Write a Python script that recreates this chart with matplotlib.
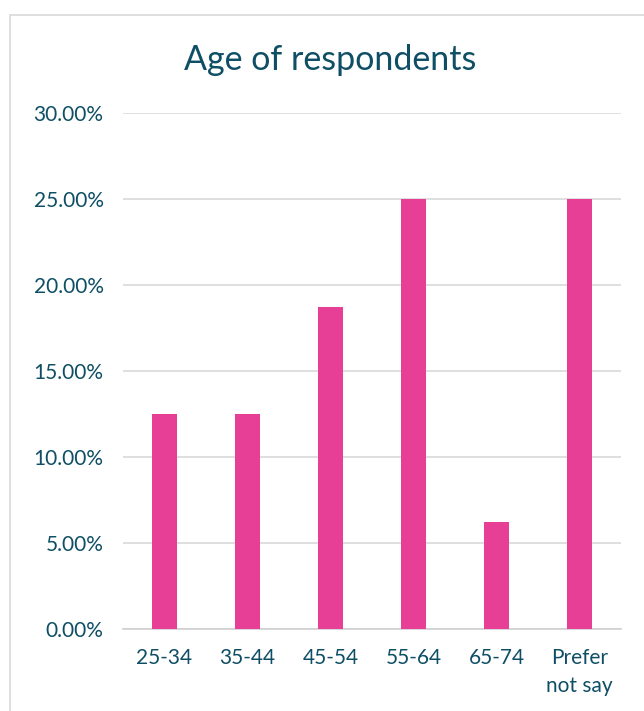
import matplotlib.pyplot as plt
from matplotlib.patches import Rectangle
from matplotlib.ticker import FuncFormatter

categories = ['25-34', '35-44', '45-54', '55-64', '65-74', 'Prefer\nnot say']
shares = [12.5, 12.5, 18.75, 25.0, 6.25, 25.0]

text_color = '#0f4f66'
bar_color = '#e83f96'

plt.rcParams['font.family'] = ['Lato', 'DejaVu Sans']

fig = plt.figure(figsize=(6.44, 7.11), dpi=100)
# chart frame (cut off at right and bottom like the reference)
fig.patches.append(Rectangle((10/644, -0.1), 1.0, 1 - 15/711 + 0.1,
                             transform=fig.transFigure, fill=False,
                             edgecolor='#d9d9d9', linewidth=1.2))

ax = fig.add_axes([123/644, 1 - 629/711, 498/644, 516/711])
x = range(len(categories))
ax.bar(x, shares, width=0.31, color=bar_color, zorder=3)

ax.set_ylim(0, 30)
ax.set_xlim(-0.5, len(categories) - 0.5)
ax.set_yticks([0, 5, 10, 15, 20, 25, 30])
ax.yaxis.set_major_formatter(FuncFormatter(lambda v, p: f'{v:.2f}%'))
ax.set_xticks(list(x))
ax.set_xticklabels(categories, linespacing=1.5)
ax.grid(axis='y', color='#d9d9d9', linewidth=1.2, zorder=0)
for s in ['top', 'right', 'left']:
    ax.spines[s].set_visible(False)
ax.spines['bottom'].set_color('#d0d0d0')
ax.spines['bottom'].set_linewidth(1.2)
ax.tick_params(axis='both', length=0, labelsize=15, colors=text_color)
ax.tick_params(axis='x', pad=14)
ax.tick_params(axis='y', pad=14)

fig.text(330/644, 1 - 60/711, 'Age of respondents', ha='center', va='center',
         fontsize=24.5, color=text_color)

fig.savefig('out.png', dpi=100)
